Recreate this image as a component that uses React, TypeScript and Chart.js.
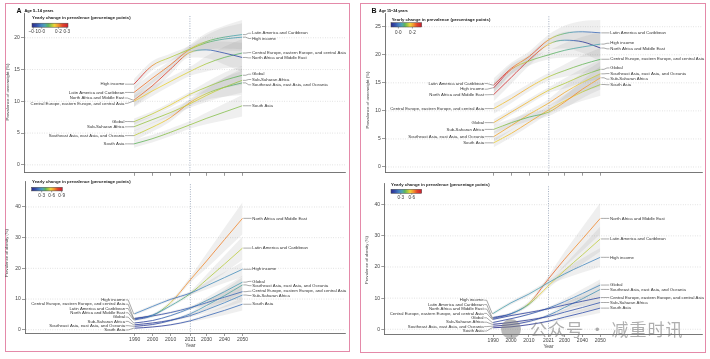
import React, { useEffect, useRef } from 'react';
import { Chart, registerables } from 'chart.js';

Chart.register(...registerables);

const YEARS = [1990, 2000, 2010, 2021, 2030, 2040, 2050];
const X_TICKS = [1990, 2000, 2010, 2021, 2030, 2040, 2050];
const REGIONS = [
  'High income',
  'Latin America and Caribbean',
  'North Africa and Middle East',
  'Central Europe, eastern Europe, and central Asia',
  'Global',
  'Sub-Saharan Africa',
  'Southeast Asia, east Asia, and Oceania',
  'South Asia',
];

// Panel A (age 5–14), overweight; rows follow REGIONS, columns follow YEARS
const overweight5to14 = [
  [12.7, 15.6, 16.9, 18.2, 19.2, 19.8, 20.1],
  [11.4, 13.6, 15.7, 18.2, 19.4, 20.1, 20.5],
  [10.2, 12.4, 15.0, 17.7, 18.1, 17.6, 16.9],
  [10.0, 11.6, 13.1, 14.7, 15.9, 16.9, 17.6],
  [6.8, 8.0, 9.4, 11.1, 12.2, 13.3, 14.1],
  [6.0, 7.1, 8.2, 9.6, 10.9, 12.2, 13.3],
  [4.6, 5.9, 7.4, 9.8, 11.2, 12.2, 12.9],
  [3.3, 4.1, 5.1, 6.3, 7.3, 8.3, 9.3],
];
const overweight5to14Band = [
  [0.8, 0.7, 0.6, 0.6, 1.2, 1.8, 2.2],
  [0.9, 0.8, 0.7, 0.7, 1.3, 1.8, 2.3],
  [1.0, 0.9, 0.8, 0.8, 1.3, 1.8, 2.3],
  [0.9, 0.8, 0.7, 0.7, 1.2, 1.7, 2.2],
  [0.5, 0.4, 0.4, 0.4, 0.8, 1.2, 1.5],
  [0.7, 0.6, 0.6, 0.6, 1.0, 1.5, 1.9],
  [0.8, 0.7, 0.6, 0.6, 1.0, 1.5, 1.9],
  [0.6, 0.6, 0.6, 0.6, 0.9, 1.3, 1.7],
];
// Panel A (age 5–14), obesity
const obesity5to14 = [
  [5.2, 7.6, 9.9, 11.9, 14.3, 17.0, 19.7],
  [3.5, 4.8, 7.8, 11.8, 16.3, 21.4, 26.6],
  [3.2, 4.6, 8.8, 16.3, 22.4, 29.4, 36.3],
  [3.7, 4.5, 5.6, 7.2, 8.8, 10.6, 12.4],
  [2.2, 3.0, 4.6, 7.0, 9.5, 12.4, 15.5],
  [1.6, 2.2, 3.1, 4.6, 6.5, 8.8, 11.3],
  [1.1, 1.7, 3.0, 5.2, 7.9, 11.1, 14.6],
  [0.5, 0.9, 1.6, 2.9, 4.5, 6.3, 8.3],
];
const obesity5to14Band = [
  [0.5, 0.5, 0.5, 0.6, 1.2, 1.8, 2.4],
  [0.4, 0.4, 0.5, 0.7, 1.7, 2.8, 3.8],
  [0.4, 0.5, 0.7, 1.0, 2.4, 3.8, 5.2],
  [0.4, 0.4, 0.4, 0.5, 1.0, 1.6, 2.2],
  [0.2, 0.2, 0.3, 0.4, 1.0, 1.6, 2.2],
  [0.3, 0.3, 0.4, 0.5, 1.0, 1.6, 2.2],
  [0.2, 0.3, 0.4, 0.6, 1.2, 1.9, 2.6],
  [0.2, 0.2, 0.3, 0.4, 0.9, 1.5, 2.0],
];
// Panel B (age 15–24), overweight
const overweight15to24 = [
  [14.1, 17.4, 18.9, 20.0, 20.8, 21.4, 21.9],
  [14.6, 17.6, 19.7, 22.7, 23.8, 24.1, 23.9],
  [12.9, 16.0, 19.1, 21.9, 22.6, 22.3, 21.2],
  [10.4, 12.2, 14.2, 16.1, 17.2, 18.3, 19.2],
  [7.9, 9.8, 11.7, 13.7, 14.9, 16.3, 17.4],
  [6.7, 7.9, 8.9, 9.8, 11.6, 13.9, 15.9],
  [5.4, 7.4, 9.4, 11.4, 13.3, 15.1, 16.6],
  [4.3, 6.0, 8.0, 10.2, 11.8, 13.4, 14.7],
];
const overweight15to24Band = [
  [1.0, 0.9, 0.8, 0.8, 1.3, 1.8, 2.2],
  [1.2, 1.0, 0.9, 0.9, 1.4, 1.9, 2.3],
  [1.2, 1.1, 1.0, 1.0, 1.5, 2.0, 2.4],
  [0.9, 0.8, 0.7, 0.7, 1.1, 1.6, 2.0],
  [0.6, 0.5, 0.5, 0.5, 0.9, 1.3, 1.7],
  [0.8, 0.7, 0.7, 0.7, 1.1, 1.6, 2.1],
  [0.9, 0.8, 0.7, 0.7, 1.2, 1.7, 2.2],
  [0.8, 0.7, 0.7, 0.7, 1.1, 1.6, 2.0],
];
// Panel B (age 15–24), obesity
const obesity15to24 = [
  [5.1, 8.5, 11.3, 15.0, 17.8, 20.5, 23.1],
  [3.8, 5.0, 8.0, 14.0, 18.9, 23.9, 29.0],
  [3.5, 5.0, 8.3, 16.2, 22.5, 29.0, 35.6],
  [3.2, 4.4, 5.4, 6.6, 7.8, 9.0, 10.2],
  [2.2, 3.4, 4.8, 6.8, 8.9, 11.5, 14.2],
  [1.6, 2.2, 3.0, 4.1, 5.5, 7.0, 8.6],
  [1.0, 1.5, 2.5, 4.5, 7.0, 9.8, 12.8],
  [0.5, 0.8, 1.5, 2.6, 3.9, 5.3, 6.8],
];
const obesity15to24Band = [
  [0.5, 0.6, 0.7, 0.8, 1.5, 2.3, 3.0],
  [0.4, 0.5, 0.6, 0.8, 1.8, 2.9, 4.0],
  [0.4, 0.5, 0.7, 1.0, 2.4, 3.8, 5.0],
  [0.4, 0.4, 0.4, 0.5, 1.0, 1.5, 2.0],
  [0.2, 0.2, 0.3, 0.4, 0.9, 1.4, 1.9],
  [0.3, 0.3, 0.4, 0.5, 0.9, 1.3, 1.8],
  [0.2, 0.3, 0.4, 0.5, 1.1, 1.7, 2.3],
  [0.2, 0.2, 0.3, 0.4, 0.8, 1.2, 1.6],
];

// colour scale ranges (yearly change, percentage points) and their tick labels
const overweight5to14Scale = [-0.116, 0.315];
const overweight5to14ScaleTicks = [-0.1, 0, 0.2, 0.3];
const obesity5to14Scale = [0, 0.92];
const obesity5to14ScaleTicks = [0.3, 0.6, 0.9];
const overweight15to24Scale = [-0.105, 0.333];
const overweight15to24ScaleTicks = [0, 0.2];
const obesity15to24Scale = [0.036, 0.87];
const obesity15to24ScaleTicks = [0.3, 0.6];

const overweight5to14YTicks = [0, 5, 10, 15, 20];
const obesityYTicks = [0, 10, 20, 30, 40];
const overweight15to24YTicks = [0, 5, 10, 15, 20, 25];

const FAMILY = '"Liberation Sans Narrow", "Liberation Sans", Arial, sans-serif';
const STOPS: [number, number[]][] = [
  [0.0, [43, 44, 140]],
  [0.13, [52, 80, 170]],
  [0.26, [71, 133, 194]],
  [0.36, [78, 166, 176]],
  [0.45, [92, 179, 94]],
  [0.54, [166, 201, 67]],
  [0.62, [239, 212, 58]],
  [0.73, [243, 149, 47]],
  [0.85, [226, 69, 44]],
  [1.0, [204, 31, 47]],
];

function colorAt(t: number, a = 0.82): string {
  const u = Math.max(0, Math.min(1, t));
  for (let i = 1; i < STOPS.length; i++) {
    if (u <= STOPS[i][0]) {
      const [t0, c0] = STOPS[i - 1];
      const [t1, c1] = STOPS[i];
      const f = (u - t0) / (t1 - t0);
      const c = c0.map((v, k) => Math.round(v + (c1[k] - v) * f));
      return `rgba(${c[0]},${c[1]},${c[2]},${a})`;
    }
  }
  const c = STOPS[STOPS.length - 1][1];
  return `rgba(${c[0]},${c[1]},${c[2]},${a})`;
}

function fmt(v: number): string {
  const s = Math.abs(v).toFixed(1).replace('.', '·');
  return v < 0 ? '–' + s : s;
}

function spread(targets: number[], gap: number, lo: number, hi: number): number[] {
  const order = targets.map((_, i) => i).sort((a, b) => targets[a] - targets[b] || a - b);
  const place = (c: { ids: number[]; start: number }) => {
    const n = c.ids.length;
    const mean = c.ids.reduce((s, i) => s + targets[i], 0) / n;
    let s = mean - ((n - 1) * gap) / 2;
    s = Math.min(s, hi - (n - 1) * gap);
    s = Math.max(s, lo);
    c.start = s;
  };
  let clusters = order.map((i) => ({ ids: [i], start: 0 }));
  clusters.forEach(place);
  let merged = true;
  while (merged) {
    merged = false;
    for (let k = 0; k < clusters.length - 1; k++) {
      const a = clusters[k];
      const b = clusters[k + 1];
      if (a.start + a.ids.length * gap > b.start + 0.01) {
        const c = { ids: [...a.ids, ...b.ids], start: 0 };
        place(c);
        clusters.splice(k, 2, c);
        merged = true;
        break;
      }
    }
  }
  const out: number[] = new Array(targets.length).fill(0);
  clusters.forEach((c) => c.ids.forEach((id, j) => (out[id] = c.start + j * gap)));
  return out;
}

function fitFont(ctx: CanvasRenderingContext2D, weight: string, base: number, text: string, target: number) {
  ctx.font = `${weight} ${base}px ${FAMILY}`;
  const w = ctx.measureText(text).width;
  const size = Math.max(3.6, Math.min(base * 1.15, (base * target) / w));
  return `${weight} ${size.toFixed(2)}px ${FAMILY}`;
}

type Spec = {
  id: string;
  left: number;
  top: number;
  width: number;
  height: number;
  area: { left: number; top: number; right: number; bottom: number };
  yMin: number;
  yMax: number;
  yTicks: number[];
  values: number[][];
  bands: number[][];
  scale: number[];
  scaleTicks: number[];
  legend: { x: number; y: number; x0: number; x1: number; y0: number; y1: number; ty: number };
  yTitle: string;
  yTitleW: number;
  yTitleX: number;
  yTitleY: number;
  showYear: boolean;
  panel?: { letter: string; text: string; x: number; tx: number; y: number };
  gap: number;
};

const SPECS: Spec[] = [
  {
    id: 'a-top', left: 0, top: 0, width: 355, height: 177,
    area: { left: 24, top: 13, right: 345, bottom: 174 },
    yMin: -1.25, yMax: 23.9, yTicks: overweight5to14YTicks,
    values: overweight5to14, bands: overweight5to14Band,
    scale: overweight5to14Scale, scaleTicks: overweight5to14ScaleTicks,
    legend: { x: 32, y: 17.8, x0: 32, x1: 68, y0: 23.2, y1: 27.2, ty: 32 },
    yTitle: 'Prevalence of overweight (%)', yTitleW: 57, yTitleX: 7.5, yTitleY: 92,
    showYear: false,
    panel: { letter: 'A', text: 'Age 5–14 years', x: 16.5, tx: 24.5, y: 10.7 },
    gap: 5.3,
  },
  {
    id: 'a-bottom', left: 0, top: 177, width: 355, height: 182,
    area: { left: 25, top: 3, right: 345, bottom: 156 },
    yMin: -1.07, yMax: 48.4, yTicks: obesityYTicks,
    values: obesity5to14, bands: obesity5to14Band,
    scale: obesity5to14Scale, scaleTicks: obesity5to14ScaleTicks,
    legend: { x: 32, y: 5.3, x0: 31.7, x1: 62.3, y0: 10.3, y1: 13.9, ty: 18.7 },
    yTitle: 'Prevalence of obesity (%)', yTitleW: 48, yTitleX: 7, yTitleY: 76,
    showYear: true,
    gap: 4.3,
  },
  {
    id: 'b-top', left: 355, top: 0, width: 355, height: 177,
    area: { left: 30, top: 13.3, right: 347, bottom: 172.7 },
    yMin: -1.02, yMax: 27.39, yTicks: overweight15to24YTicks,
    values: overweight15to24, bands: overweight15to24Band,
    scale: overweight15to24Scale, scaleTicks: overweight15to24ScaleTicks,
    legend: { x: 36.7, y: 20, x0: 36, x1: 66.7, y0: 22.7, y1: 27, ty: 33 },
    yTitle: 'Prevalence of overweight (%)', yTitleW: 57, yTitleX: 12.3, yTitleY: 100,
    showYear: false,
    panel: { letter: 'B', text: 'Age 15–24 years', x: 16.5, tx: 24, y: 11 },
    gap: 5.6,
  },
  {
    id: 'b-bottom', left: 355, top: 177, width: 355, height: 182,
    area: { left: 29.3, top: 6.3, right: 347, bottom: 157 },
    yMin: -1.51, yMax: 46.87, yTicks: obesityYTicks,
    values: obesity15to24, bands: obesity15to24Band,
    scale: obesity15to24Scale, scaleTicks: obesity15to24ScaleTicks,
    legend: { x: 36, y: 7.7, x0: 36, x1: 66.7, y0: 12.3, y1: 16.3, ty: 21 },
    yTitle: 'Prevalence of obesity (%)', yTitleW: 48, yTitleX: 11.8, yTitleY: 83,
    showYear: true,
    gap: 4.4,
  },
];

function buildConfig(spec: Spec, g2d: CanvasRenderingContext2D): any {
  const toT = (s: number) => (s - spec.scale[0]) / (spec.scale[1] - spec.scale[0]);
  const lineSets = spec.values.map((vals, si) => {
    const seg = vals.slice(1).map((v, j) => (v - vals[j]) / (YEARS[j + 1] - YEARS[j]));
    const pt = vals.map((_, j) =>
      j === 0 ? seg[0] : j === vals.length - 1 ? seg[seg.length - 1] : (seg[j - 1] + seg[j]) / 2
    );
    const pc = pt.map((s) => colorAt(toT(s)));
    const sc = seg.map((s) => colorAt(toT(s)));
    return {
      type: 'line',
      label: REGIONS[si],
      data: vals.map((v, j) => ({ x: YEARS[j], y: v })),
      borderColor: pc[0],
      borderWidth: 1.0,
      pointRadius: 0,
      fill: false,
      cubicInterpolationMode: 'monotone',
      order: 0,
      segment: {
        borderColor: (c: any) => {
          const i = c.p0DataIndex;
          const k = c.p1DataIndex;
          if (!(c.p1.x - c.p0.x > 0.5)) return sc[i];
          const gr = g2d.createLinearGradient(c.p0.x, 0, c.p1.x, 0);
          gr.addColorStop(0, pc[i]);
          gr.addColorStop(0.5, sc[i]);
          gr.addColorStop(1, pc[k]);
          return gr;
        },
        borderDashOffset: (c: any) => c.p0DataIndex * 0.01,
      },
    };
  });
  const bandSets: any[] = [];
  spec.values.forEach((vals, si) => {
    const hw = spec.bands[si];
    bandSets.push({
      type: 'line',
      label: REGIONS[si] + ' lower',
      data: vals.map((v, j) => ({ x: YEARS[j], y: v - hw[j] })),
      borderColor: 'rgba(0,0,0,0)',
      borderWidth: 0.01,
      pointRadius: 0,
      fill: false,
      cubicInterpolationMode: 'monotone',
      order: 1,
    });
    bandSets.push({
      type: 'line',
      label: REGIONS[si] + ' upper',
      data: vals.map((v, j) => ({ x: YEARS[j], y: v + hw[j] })),
      borderColor: 'rgba(0,0,0,0)',
      borderWidth: 0.01,
      pointRadius: 0,
      fill: '-1',
      backgroundColor: 'rgba(125,125,125,0.12)',
      cubicInterpolationMode: 'monotone',
      order: 1,
    });
  });

  const axisGrid = { drawOnChartArea: false, drawTicks: true, tickLength: 3, color: '#555', lineWidth: 0.6 };
  const axisBorder = { display: true, color: '#555', width: 0.8 };

  const decor = {
    id: 'decor-' + spec.id,
    beforeDatasetsDraw(chart: any) {
      const { ctx, chartArea: a, scales } = chart;
      const x = scales.x;
      const y = scales.y;
      ctx.save();
      ctx.strokeStyle = '#c4c4c4';
      ctx.lineWidth = 0.6;
      ctx.setLineDash([0.8, 1.6]);
      for (const t of spec.yTicks) {
        const py = y.getPixelForValue(t);
        ctx.beginPath();
        ctx.moveTo(a.left + 1, py);
        ctx.lineTo(a.right, py);
        ctx.stroke();
      }
      ctx.strokeStyle = '#7d8da6';
      ctx.lineWidth = 0.7;
      ctx.setLineDash([1, 1.4]);
      const px = x.getPixelForValue(2021);
      ctx.beginPath();
      ctx.moveTo(px, a.top + 3);
      ctx.lineTo(px, a.bottom);
      ctx.stroke();
      ctx.restore();
    },
    afterDraw(chart: any) {
      const { ctx, chartArea: a, scales } = chart;
      const x = scales.x;
      const y = scales.y;
      ctx.save();
      ctx.setLineDash([]);
      // region labels
      const labelFont = fitFont(ctx, '', 5.2, REGIONS[3], 94);
      ctx.font = labelFont;
      ctx.fillStyle = '#333';
      ctx.strokeStyle = '#555';
      ctx.lineWidth = 0.5;
      ctx.textBaseline = 'middle';
      const x0 = x.getPixelForValue(YEARS[0]);
      const x1 = x.getPixelForValue(YEARS[YEARS.length - 1]);
      const startY = spec.values.map((v) => y.getPixelForValue(v[0]));
      const endY = spec.values.map((v) => y.getPixelForValue(v[v.length - 1]));
      const leftY = spread(startY, spec.gap, a.top + 4, a.bottom - 3);
      const rightY = spread(endY, spec.gap, a.top + 4, a.bottom - 3);
      REGIONS.forEach((name, i) => {
        ctx.beginPath();
        ctx.moveTo(x0 - 9, leftY[i]);
        ctx.lineTo(x0 - 6.5, leftY[i]);
        ctx.lineTo(x0 - 1, startY[i]);
        ctx.lineTo(x0, startY[i]);
        ctx.stroke();
        ctx.textAlign = 'right';
        ctx.fillText(name, x0 - 9.6, leftY[i]);
        ctx.beginPath();
        ctx.moveTo(x1 + 0.8, endY[i]);
        ctx.lineTo(x1 + 3.5, endY[i]);
        ctx.lineTo(x1 + 6.5, rightY[i]);
        ctx.lineTo(x1 + 9, rightY[i]);
        ctx.stroke();
        ctx.textAlign = 'left';
        ctx.fillText(name, x1 + 9.8, rightY[i]);
      });
      // colour legend
      const lg = spec.legend;
      const legendTitle = 'Yearly change in prevalence (percentage points)';
      ctx.font = fitFont(ctx, 'bold', 5, legendTitle, 99);
      ctx.fillStyle = '#222';
      ctx.textAlign = 'left';
      ctx.fillText(legendTitle, lg.x, lg.y);
      const gr = ctx.createLinearGradient(lg.x0, 0, lg.x1, 0);
      STOPS.forEach(([t]) => gr.addColorStop(t, colorAt(t, 1)));
      ctx.fillStyle = gr;
      ctx.fillRect(lg.x0, lg.y0, lg.x1 - lg.x0, lg.y1 - lg.y0);
      ctx.strokeStyle = '#444';
      ctx.lineWidth = 0.5;
      ctx.strokeRect(lg.x0, lg.y0, lg.x1 - lg.x0, lg.y1 - lg.y0);
      ctx.font = `4.6px ${FAMILY}`;
      ctx.fillStyle = '#333';
      ctx.textAlign = 'center';
      spec.scaleTicks.forEach((t) => {
        const px = lg.x0 + ((t - spec.scale[0]) / (spec.scale[1] - spec.scale[0])) * (lg.x1 - lg.x0);
        ctx.beginPath();
        ctx.moveTo(px, lg.y1);
        ctx.lineTo(px, lg.y1 + 1.5);
        ctx.stroke();
        ctx.fillText(fmt(t), px, lg.ty);
      });
      // y title
      ctx.save();
      ctx.translate(spec.yTitleX, spec.yTitleY);
      ctx.rotate(-Math.PI / 2);
      ctx.font = fitFont(ctx, '', 4.8, spec.yTitle, spec.yTitleW);
      ctx.fillStyle = '#444';
      ctx.textAlign = 'center';
      ctx.fillText(spec.yTitle, 0, 0);
      ctx.restore();
      // x title
      if (spec.showYear) {
        ctx.font = `5px ${FAMILY}`;
        ctx.fillStyle = '#444';
        ctx.textAlign = 'center';
        ctx.fillText('Year', x.getPixelForValue(2021), a.bottom + 13);
      }
      // panel title
      if (spec.panel) {
        const p = spec.panel;
        ctx.textAlign = 'left';
        ctx.fillStyle = '#111';
        ctx.font = `bold 7px ${FAMILY}`;
        ctx.fillText(p.letter, p.x, p.y);
        ctx.font = fitFont(ctx, 'bold', 5.3, p.text, 29);
        ctx.fillText(p.text, p.tx, p.y);
      }
      ctx.restore();
    },
  };

  return {
    type: 'line',
    data: { datasets: [...lineSets, ...bandSets] },
    options: {
      animation: false,
      responsive: false,
      maintainAspectRatio: false,
      events: [],
      layout: {
        padding: { left: 0, top: spec.area.top, right: spec.width - spec.area.right, bottom: 0 },
      },
      plugins: { legend: { display: false }, tooltip: { enabled: false } },
      scales: {
        x: {
          type: 'linear',
          min: 1929,
          max: 2107,
          afterBuildTicks: (s: any) => {
            s.ticks = X_TICKS.map((v) => ({ value: v }));
          },
          afterFit: (s: any) => {
            s.height = spec.height - spec.area.bottom;
          },
          ticks: {
            autoSkip: false,
            maxRotation: 0,
            padding: 1,
            color: '#444',
            font: { size: 5, family: FAMILY },
            callback: (v: any) => (spec.showYear ? String(v) : ''),
          },
          grid: axisGrid,
          border: axisBorder,
        },
        y: {
          type: 'linear',
          min: spec.yMin,
          max: spec.yMax,
          afterBuildTicks: (s: any) => {
            s.ticks = spec.yTicks.map((v) => ({ value: v }));
          },
          afterFit: (s: any) => {
            s.width = spec.area.left;
          },
          ticks: {
            padding: 1.2,
            color: '#444',
            font: { size: 5, family: FAMILY },
            callback: (v: any) => String(v),
          },
          grid: axisGrid,
          border: axisBorder,
        },
      },
    },
    plugins: [decor],
  };
}

function ChartPanel({ spec }: { spec: Spec }) {
  const ref = useRef<HTMLCanvasElement>(null);
  useEffect(() => {
    const canvas = ref.current;
    if (!canvas) return;
    const g2d = canvas.getContext('2d') as CanvasRenderingContext2D;
    const chart = new Chart(canvas, buildConfig(spec, g2d));
    return () => chart.destroy();
  }, [spec]);
  return (
    <canvas
      ref={ref}
      width={spec.width}
      height={spec.height}
      style={{ position: 'absolute', left: spec.left, top: spec.top, width: spec.width, height: spec.height }}
    />
  );
}

export default function App() {
  return (
    <div
      style={{
        position: 'absolute',
        left: 0,
        top: 0,
        width: 710,
        height: 359,
        background: '#fff',
        overflow: 'hidden',
      }}
    >
      <div
        style={{
          position: 'absolute', left: 5, top: 3, width: 345, height: 349,
          border: '1.5px solid #e48aa9', boxSizing: 'border-box',
        }}
      />
      <div
        style={{
          position: 'absolute', left: 360, top: 3, width: 346, height: 350,
          border: '1.5px solid #e48aa9', boxSizing: 'border-box',
        }}
      />
      {SPECS.map((s) => (
        <ChartPanel key={s.id} spec={s} />
      ))}
      <div
        style={{
          position: 'absolute', left: 501, top: 319, width: 20, height: 20, borderRadius: 10,
          background: 'rgba(130,130,130,0.55)',
        }}
      />
      <div
        style={{
          position: 'absolute', left: 530, top: 318, fontSize: 17, lineHeight: '22px',
          fontFamily: '"Noto Sans CJK SC", sans-serif', color: 'rgba(120,120,120,0.6)',
          whiteSpace: 'nowrap', letterSpacing: 1,
        }}
      >
        公众号 · 减重时讯
      </div>
    </div>
  );
}
